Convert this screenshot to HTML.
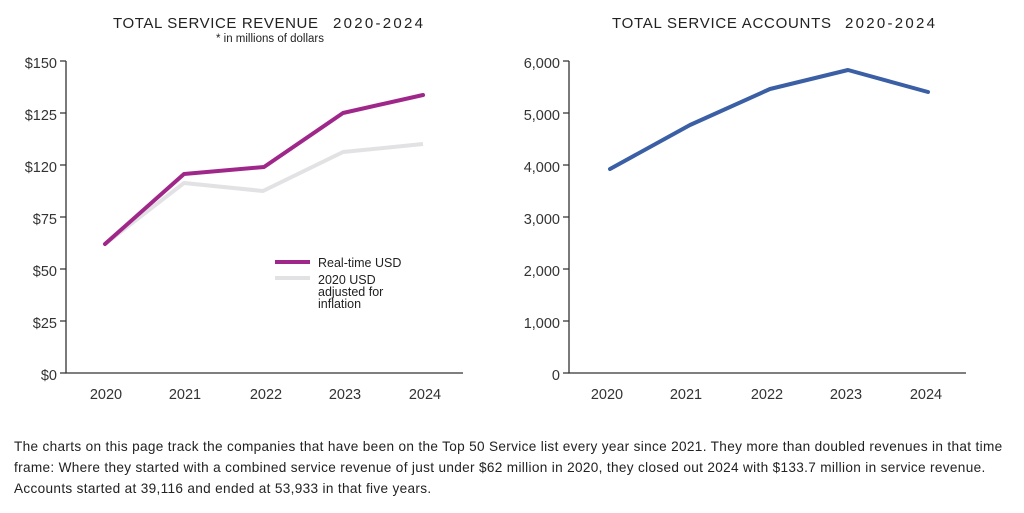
<!DOCTYPE html>
<html><head><style>
body{margin:0;background:#fff;width:1024px;height:513px;overflow:hidden;font-family:"Liberation Sans",sans-serif;}
p{position:absolute;left:14px;top:436px;margin:0;width:1005px;font-size:13.6px;letter-spacing:0.33px;line-height:21px;color:#222;}
</style></head><body>
<svg width="1024" height="513" style="position:absolute;left:0;top:0" font-family="Liberation Sans, sans-serif">
<g fill="#222" font-size="15">
<text x="113" y="28" textLength="205" lengthAdjust="spacing">TOTAL SERVICE REVENUE</text><text x="333" y="28" textLength="90" lengthAdjust="spacing">2020-2024</text>
<text x="270" y="42" text-anchor="middle" font-size="11.5">* in millions of dollars</text>
<text x="612" y="28" textLength="219" lengthAdjust="spacing">TOTAL SERVICE ACCOUNTS</text><text x="845" y="28" textLength="90" lengthAdjust="spacing">2020-2024</text>
</g>
<g stroke="#333" stroke-width="1.3" fill="none">
<path d="M66 61V373H463"/>
<path d="M60 61H66M60 113H66M60 165H66M60 217H66M60 269H66M60 321H66M60 373H66"/>
<path d="M569 61V373H966"/>
<path d="M563 61H569M563 113H569M563 165H569M563 217H569M563 269H569M563 321H569M563 373H569"/>
</g>
<g fill="#333" font-size="14.5" text-anchor="end">
<text x="57" y="68">$150</text><text x="57" y="120">$125</text><text x="57" y="172">$120</text><text x="57" y="224">$75</text><text x="57" y="276">$50</text><text x="57" y="328">$25</text><text x="57" y="380">$0</text>
<text x="560" y="68">6,000</text><text x="560" y="120">5,000</text><text x="560" y="172">4,000</text><text x="560" y="224">3,000</text><text x="560" y="276">2,000</text><text x="560" y="328">1,000</text><text x="560" y="380">0</text>
</g>
<g fill="#333" font-size="14.5" text-anchor="middle">
<text x="106" y="399">2020</text><text x="185" y="399">2021</text><text x="266" y="399">2022</text><text x="345" y="399">2023</text><text x="425" y="399">2024</text>
<text x="607" y="399">2020</text><text x="686" y="399">2021</text><text x="767" y="399">2022</text><text x="846" y="399">2023</text><text x="926" y="399">2024</text>
</g>
<polyline points="105,244 184,183 263,191 343,152 423,144" fill="none" stroke="#e2e2e4" stroke-width="4" stroke-linejoin="round"/>
<polyline points="105,244 184,174 264,167 343,113 423,95" fill="none" stroke="#a0278a" stroke-width="4" stroke-linejoin="round" stroke-linecap="round"/>
<polyline points="610,169 690,125 770,89 848,70 928,92" fill="none" stroke="#3a5fa5" stroke-width="4" stroke-linejoin="round" stroke-linecap="round"/>
<line x1="275" y1="262" x2="310" y2="262" stroke="#a0278a" stroke-width="4"/>
<line x1="275" y1="278" x2="310" y2="278" stroke="#e2e2e4" stroke-width="4"/>
<g fill="#222" font-size="12.5">
<text x="318" y="267">Real-time USD</text>
<text x="318" y="284">2020 USD</text>
<text x="318" y="296">adjusted for</text>
<text x="318" y="308">inflation</text>
</g>
</svg>
<p>The charts on this page track the companies that have been on the Top 50 Service list every year since 2021. They more than doubled revenues in that time frame: Where they started with a combined service revenue of just under $62 million in 2020, they closed out 2024 with $133.7 million in service revenue. Accounts started at 39,116 and ended at 53,933 in that five years.</p>
</body></html>
